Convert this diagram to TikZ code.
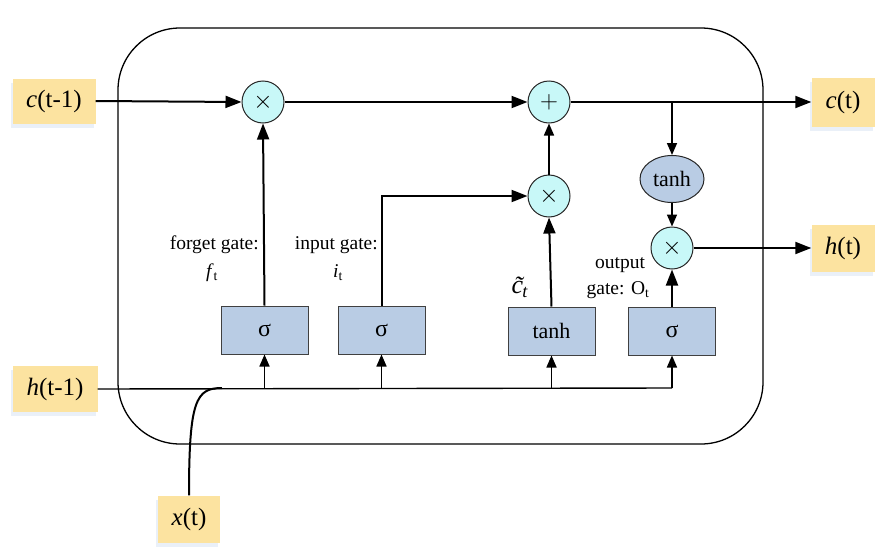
\documentclass[tikz,border=0pt]{standalone}
\usepackage{fontspec}
\setmainfont{Liberation Serif}
\usetikzlibrary{arrows.meta,shapes.geometric,shadows}
\definecolor{ybox}{HTML}{FCE3A0}
\definecolor{cyanc}{HTML}{C8F8F8}
\definecolor{bbox}{HTML}{B9CCE4}
\definecolor{shadowc}{HTML}{EAF0F8}
\begin{document}
\begin{tikzpicture}[x=1pt,y=-1pt,
  io/.style={fill=ybox, inner sep=0pt, font=\fontsize{25}{28}\selectfont,
    drop shadow={fill=shadowc, shadow xshift=-2pt, shadow yshift=-4pt, opacity=1}},
  op/.style={circle, draw=black!85, line width=1pt, fill=cyanc, minimum size=42pt, inner sep=0pt, font=\fontsize{33}{33}\selectfont},
  gatebox/.style={rectangle, draw=black!75, line width=1pt, fill=bbox, minimum width=87pt, minimum height=48pt, inner sep=0pt, font=\fontsize{22}{26}\selectfont},
  lbl/.style={font=\fontsize{19.5}{22}\selectfont, inner sep=0pt, align=center},
  conn/.style={line width=2pt},
  arr/.style={conn, -{Triangle[length=16pt,width=12pt]}},
  sarr/.style={line width=1.6pt, -{Triangle[length=12pt,width=10pt]}}
]
\useasboundingbox (0,0) rectangle (881,557);
\draw[line width=1.3pt, rounded corners=62pt] (118,28) rectangle (763,444);

% inputs / outputs
\node[io, minimum width=83pt, minimum height=45pt] (cprev) at (54,101) {\textit{c}(t-1)};
\node[io, minimum width=85pt, minimum height=46pt] (hprev) at (55,389) {\textit{h}(t-1)};
\node[io, minimum width=62pt, minimum height=47pt] (xt) at (189,519) {\textit{x}(t)};
\node[io, minimum width=63pt, minimum height=49pt] (ct) at (843,102) {\textit{c}(t)};
\node[io, minimum width=63pt, minimum height=47pt] (ht) at (843,248) {\textit{h}(t)};

% operators
\node[op] (mf) at (263,102) {$\times$};
\node[op] (add) at (549,102) {$+$};
\node[op] (mi) at (549,196) {$\times$};
\node[op] (mo) at (672,248) {$\times$};
\node[ellipse, draw=black!85, line width=1pt, fill=bbox, minimum width=64pt, minimum height=47pt, inner sep=0pt, font=\fontsize{22}{26}\selectfont] (tc) at (672,179) {tanh};

% gates
\node[gatebox, font=\fontsize{24}{26}\selectfont] (sf) at (264.5,330) {σ};
\node[gatebox, font=\fontsize{24}{26}\selectfont] (si) at (381.5,330) {σ};
\node[gatebox] (tg) at (551.5,331) {tanh};
\node[gatebox, font=\fontsize{24}{26}\selectfont] (so) at (672,331) {σ};

% labels
\node[lbl, anchor=east] (lf) at (259,245) {forget gate:};
\node[lbl] (lft) at (212,273) {\textit{f}\textsubscript{t}};
\node[lbl, anchor=east] (li) at (378,245) {input gate:};
\node[lbl] (lit) at (338,273) {\textit{i}\textsubscript{t}};
\node[lbl, font=\fontsize{26}{28}\selectfont] (lc) at (520,287) {\textit{c̃}\kern-0.42em\textsubscript{\textit{t}}};
\node[lbl] (lo1) at (620,265) {output};
\node[lbl] (lo2) at (618,290) {gate: O\textsubscript{t}};

% cell state line
\coordinate (br) at (672,102);
\draw[arr] (cprev.east) -- (mf.west);
\draw[arr] (mf.east) -- (add.west);
\draw[arr] (add.east) -- (ct.west);
\draw[sarr] (br) -- (tc.north);
\draw[sarr] (tc.south) -- (mo.north);
\draw[arr] (mo.east) -- (ht.west);
\draw[sarr] (mi.north) -- (add.south);

% gate outputs
\draw[arr] (sf.north) -- (mf.south);
\draw[arr] (si.north) |- (mi.west);
\draw[arr] (tg.north) -- (mi.south);
\draw[arr] (so.north) -- (mo.south);

% h(t-1) bus
\coordinate (bend) at (672,388);
\coordinate (xj) at (222,388);
\draw[line width=1.4pt] (hprev.east) -- (bend);
\draw[conn] (xt.north) .. controls (189,400) and (196,388) .. (xj);
\draw[sarr] (sf.south |- bend) -- (sf.south);
\draw[sarr] (si.south |- bend) -- (si.south);
\draw[sarr] (tg.south |- bend) -- (tg.south);
\draw[sarr] (bend) -- (so.south);
\end{tikzpicture}
\end{document}
